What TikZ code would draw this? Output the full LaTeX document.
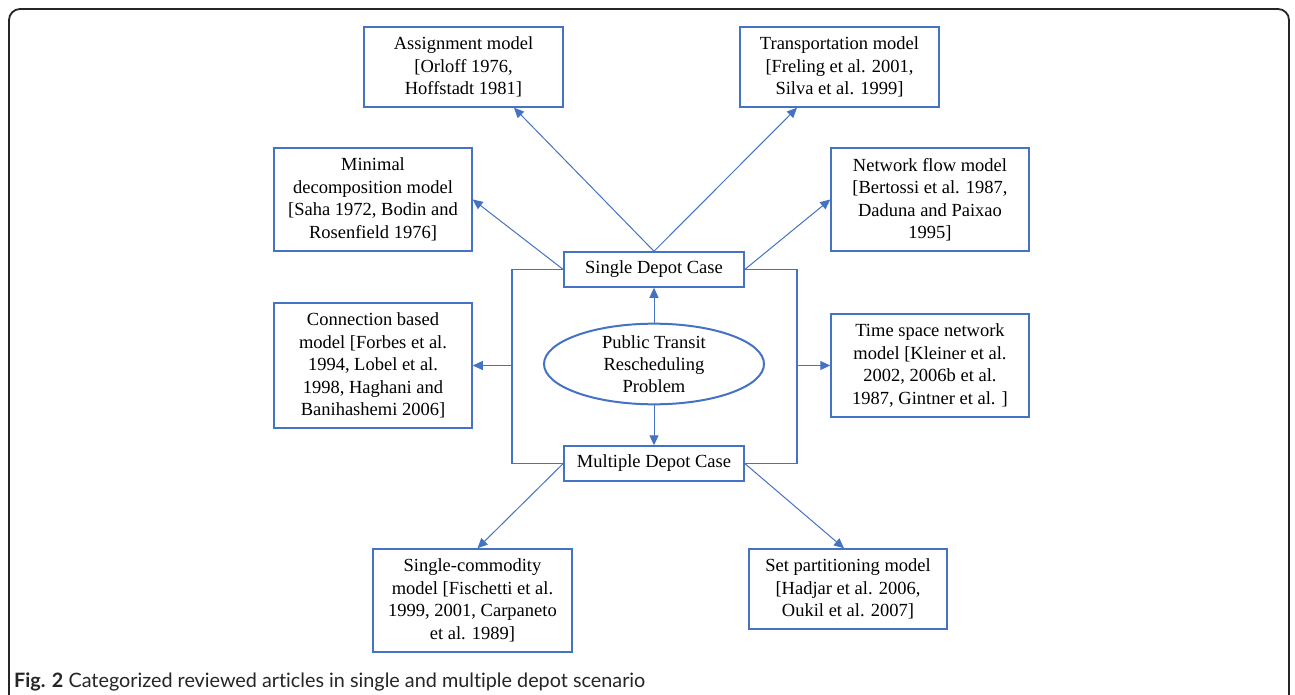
\documentclass[tikz,border=0pt]{standalone}
\usepackage{fontspec}
\setmainfont{Liberation Serif}
\newfontfamily\capfont[Ligatures=NoCommon]{Lato}
\usetikzlibrary{shapes.geometric,arrows.meta}
\definecolor{ofblue}{RGB}{68,114,196}
\begin{document}
\begin{tikzpicture}[x=1pt,y=-1pt,
  box/.style={draw=ofblue,line width=1.5pt,align=center,inner sep=2pt,
    font=\fontsize{18.5}{22.5}\selectfont},
  conn/.style={draw=ofblue,line width=1pt,-{Triangle[width=9pt,length=10pt]}},
  brk/.style={draw=ofblue,line width=1.2pt}]
\useasboundingbox (0,0) rectangle (1295,695);
\fill[white] (0,0) rectangle (1295,695);
\draw[line width=1.8pt,black!85,rounded corners=11pt] (9,700) -- (9,9) -- (1289,9) -- (1289,700);

\node[box,minimum width=199pt,minimum height=80pt] (ass) at (463.5,67) {Assignment model\\{[}Orloff 1976,\\Hoffstadt 1981]};
\node[box,minimum width=199pt,minimum height=80pt] (trans) at (839.5,67) {Transportation model\\{[}Freling et al. 2001,\\Silva et al. 1999]};
\node[box,minimum width=198pt,minimum height=103pt] (mini) at (373,199.5) {Minimal\\decomposition model\\{[}Saha 1972, Bodin and\\Rosenfield 1976]};
\node[box,minimum width=198pt,minimum height=103pt] (net) at (930,199.5) {Network flow model\\{[}Bertossi et al. 1987,\\Daduna and Paixao\\1995]};
\node[box,minimum width=180pt,minimum height=35pt] (sdc) at (654,269.5) {Single Depot Case};
\node[box,minimum width=198pt,minimum height=125pt] (cb) at (373,365.5) {Connection based\\model [Forbes et al.\\1994, Lobel et al.\\1998, Haghani and\\Banihashemi 2006]};
\node[box,minimum width=198pt,minimum height=103pt] (ts) at (930,365.5) {Time space network\\model [Kleiner et al.\\2002, 2006b et al.\\1987, Gintner et al. ]};
\node[ellipse,draw=ofblue,line width=2pt,minimum width=220pt,minimum height=68pt,inner sep=0pt,align=center,
  font=\fontsize{18.5}{22}\selectfont] (ell) at (654,364) {Public Transit\\Rescheduling\\Problem};
\node[box,minimum width=180pt,minimum height=35pt] (mdc) at (654,463.5) {Multiple Depot Case};
\node[box,minimum width=199pt,minimum height=103pt] (sc) at (472.5,600.5) {Single-commodity\\model [Fischetti et al.\\1999, 2001, Carpaneto\\et al. 1989]};
\node[box,minimum width=198pt,minimum height=80pt] (sp) at (848,589) {Set partitioning model\\{[}Hadjar et al. 2006,\\Oukil et al. 2007]};

\coordinate (lb) at (512,365.5);
\coordinate (rb) at (797,365.5);
\draw[brk] (sdc.west) -| (lb) |- (mdc.west);
\draw[brk] (sdc.east) -| (rb) |- (mdc.east);
\draw[conn] (lb) -- (cb.east);
\draw[conn] (rb) -- (ts.west);
\draw[conn] (sdc.north) -- ([xshift=50.5pt]ass.south);
\draw[conn] (sdc.north) -- ([xshift=-42.5pt]trans.south);
\draw[conn] (sdc.west) -- (mini.east);
\draw[conn] (sdc.east) -- (net.west);
\draw[conn] (ell.north) -- (sdc.south);
\draw[conn] (ell.south) -- (mdc.north);
\draw[conn] (mdc.west) -- ([xshift=5pt]sc.north);
\draw[conn] (mdc.east) -- ([xshift=-4pt]sp.north);

\node[anchor=west,inner sep=0pt,font=\capfont\fontsize{19.8}{22}\selectfont,text=black!85] (cap) at (14,682) {\textbf{Fig. 2} Categorized reviewed articles in single and multiple depot scenario};
\end{tikzpicture}
\end{document}
